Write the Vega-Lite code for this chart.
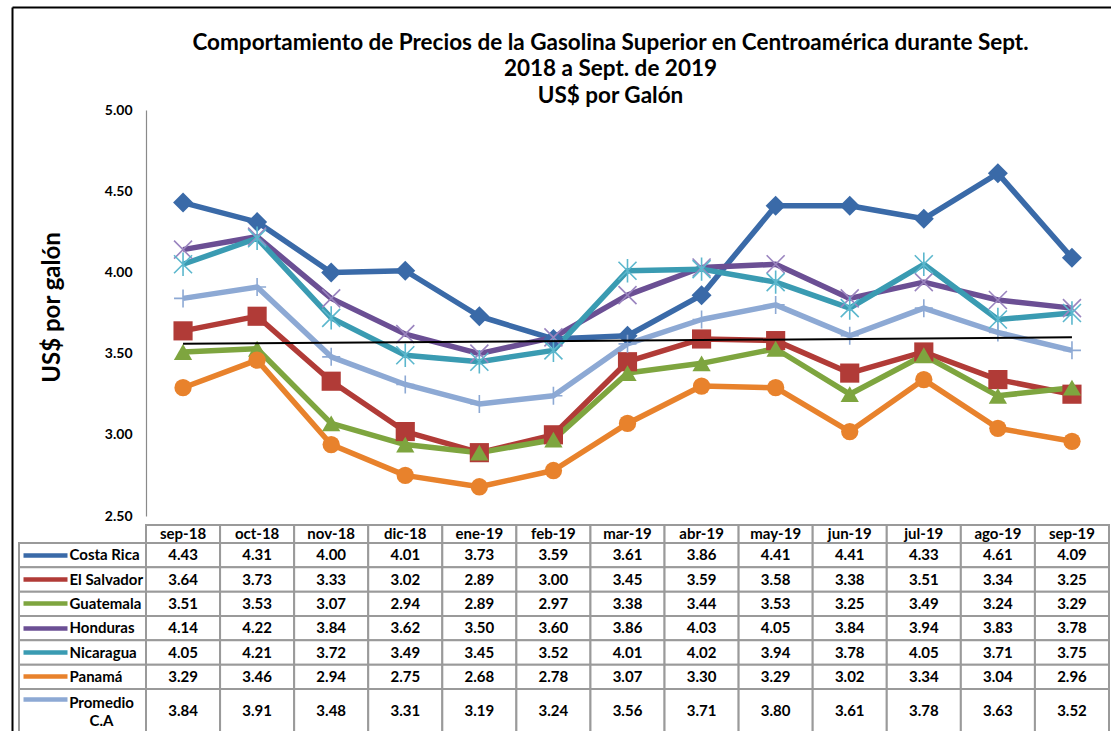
{
  "$schema": "https://vega.github.io/schema/vega-lite/v6.json",
  "autosize": {"type": "pad"},
  "padding": {"left": 11, "top": 6, "right": 0, "bottom": 0},
  "background": "white",
  "config": {"view": {"stroke": null}, "font": "Lato"},
  "datasets": {
    "meses": [
      {"mes": "sep-18"}, {"mes": "oct-18"}, {"mes": "nov-18"}, {"mes": "dic-18"}, {"mes": "ene-19"}, {"mes": "feb-19"}, {"mes": "mar-19"},
      {"mes": "abr-19"}, {"mes": "may-19"}, {"mes": "jun-19"}, {"mes": "jul-19"}, {"mes": "ago-19"}, {"mes": "sep-19"}
    ],
    "tendencia": [
      {"mes": "sep-18", "precio": 3.56},
      {"mes": "sep-19", "precio": 3.60}
    ],
    "precios": [
      {"pais": "Costa Rica", "mes": "sep-18", "precio": 4.43},
      {"pais": "Costa Rica", "mes": "oct-18", "precio": 4.31},
      {"pais": "Costa Rica", "mes": "nov-18", "precio": 4.00},
      {"pais": "Costa Rica", "mes": "dic-18", "precio": 4.01},
      {"pais": "Costa Rica", "mes": "ene-19", "precio": 3.73},
      {"pais": "Costa Rica", "mes": "feb-19", "precio": 3.59},
      {"pais": "Costa Rica", "mes": "mar-19", "precio": 3.61},
      {"pais": "Costa Rica", "mes": "abr-19", "precio": 3.86},
      {"pais": "Costa Rica", "mes": "may-19", "precio": 4.41},
      {"pais": "Costa Rica", "mes": "jun-19", "precio": 4.41},
      {"pais": "Costa Rica", "mes": "jul-19", "precio": 4.33},
      {"pais": "Costa Rica", "mes": "ago-19", "precio": 4.61},
      {"pais": "Costa Rica", "mes": "sep-19", "precio": 4.09},
      {"pais": "El Salvador", "mes": "sep-18", "precio": 3.64},
      {"pais": "El Salvador", "mes": "oct-18", "precio": 3.73},
      {"pais": "El Salvador", "mes": "nov-18", "precio": 3.33},
      {"pais": "El Salvador", "mes": "dic-18", "precio": 3.02},
      {"pais": "El Salvador", "mes": "ene-19", "precio": 2.89},
      {"pais": "El Salvador", "mes": "feb-19", "precio": 3.00},
      {"pais": "El Salvador", "mes": "mar-19", "precio": 3.45},
      {"pais": "El Salvador", "mes": "abr-19", "precio": 3.59},
      {"pais": "El Salvador", "mes": "may-19", "precio": 3.58},
      {"pais": "El Salvador", "mes": "jun-19", "precio": 3.38},
      {"pais": "El Salvador", "mes": "jul-19", "precio": 3.51},
      {"pais": "El Salvador", "mes": "ago-19", "precio": 3.34},
      {"pais": "El Salvador", "mes": "sep-19", "precio": 3.25},
      {"pais": "Guatemala", "mes": "sep-18", "precio": 3.51},
      {"pais": "Guatemala", "mes": "oct-18", "precio": 3.53},
      {"pais": "Guatemala", "mes": "nov-18", "precio": 3.07},
      {"pais": "Guatemala", "mes": "dic-18", "precio": 2.94},
      {"pais": "Guatemala", "mes": "ene-19", "precio": 2.89},
      {"pais": "Guatemala", "mes": "feb-19", "precio": 2.97},
      {"pais": "Guatemala", "mes": "mar-19", "precio": 3.38},
      {"pais": "Guatemala", "mes": "abr-19", "precio": 3.44},
      {"pais": "Guatemala", "mes": "may-19", "precio": 3.53},
      {"pais": "Guatemala", "mes": "jun-19", "precio": 3.25},
      {"pais": "Guatemala", "mes": "jul-19", "precio": 3.49},
      {"pais": "Guatemala", "mes": "ago-19", "precio": 3.24},
      {"pais": "Guatemala", "mes": "sep-19", "precio": 3.29},
      {"pais": "Honduras", "mes": "sep-18", "precio": 4.14},
      {"pais": "Honduras", "mes": "oct-18", "precio": 4.22},
      {"pais": "Honduras", "mes": "nov-18", "precio": 3.84},
      {"pais": "Honduras", "mes": "dic-18", "precio": 3.62},
      {"pais": "Honduras", "mes": "ene-19", "precio": 3.50},
      {"pais": "Honduras", "mes": "feb-19", "precio": 3.60},
      {"pais": "Honduras", "mes": "mar-19", "precio": 3.86},
      {"pais": "Honduras", "mes": "abr-19", "precio": 4.03},
      {"pais": "Honduras", "mes": "may-19", "precio": 4.05},
      {"pais": "Honduras", "mes": "jun-19", "precio": 3.84},
      {"pais": "Honduras", "mes": "jul-19", "precio": 3.94},
      {"pais": "Honduras", "mes": "ago-19", "precio": 3.83},
      {"pais": "Honduras", "mes": "sep-19", "precio": 3.78},
      {"pais": "Nicaragua", "mes": "sep-18", "precio": 4.05},
      {"pais": "Nicaragua", "mes": "oct-18", "precio": 4.21},
      {"pais": "Nicaragua", "mes": "nov-18", "precio": 3.72},
      {"pais": "Nicaragua", "mes": "dic-18", "precio": 3.49},
      {"pais": "Nicaragua", "mes": "ene-19", "precio": 3.45},
      {"pais": "Nicaragua", "mes": "feb-19", "precio": 3.52},
      {"pais": "Nicaragua", "mes": "mar-19", "precio": 4.01},
      {"pais": "Nicaragua", "mes": "abr-19", "precio": 4.02},
      {"pais": "Nicaragua", "mes": "may-19", "precio": 3.94},
      {"pais": "Nicaragua", "mes": "jun-19", "precio": 3.78},
      {"pais": "Nicaragua", "mes": "jul-19", "precio": 4.05},
      {"pais": "Nicaragua", "mes": "ago-19", "precio": 3.71},
      {"pais": "Nicaragua", "mes": "sep-19", "precio": 3.75},
      {"pais": "Panamá", "mes": "sep-18", "precio": 3.29},
      {"pais": "Panamá", "mes": "oct-18", "precio": 3.46},
      {"pais": "Panamá", "mes": "nov-18", "precio": 2.94},
      {"pais": "Panamá", "mes": "dic-18", "precio": 2.75},
      {"pais": "Panamá", "mes": "ene-19", "precio": 2.68},
      {"pais": "Panamá", "mes": "feb-19", "precio": 2.78},
      {"pais": "Panamá", "mes": "mar-19", "precio": 3.07},
      {"pais": "Panamá", "mes": "abr-19", "precio": 3.30},
      {"pais": "Panamá", "mes": "may-19", "precio": 3.29},
      {"pais": "Panamá", "mes": "jun-19", "precio": 3.02},
      {"pais": "Panamá", "mes": "jul-19", "precio": 3.34},
      {"pais": "Panamá", "mes": "ago-19", "precio": 3.04},
      {"pais": "Panamá", "mes": "sep-19", "precio": 2.96},
      {"pais": "Promedio C.A", "mes": "sep-18", "precio": 3.84},
      {"pais": "Promedio C.A", "mes": "oct-18", "precio": 3.91},
      {"pais": "Promedio C.A", "mes": "nov-18", "precio": 3.48},
      {"pais": "Promedio C.A", "mes": "dic-18", "precio": 3.31},
      {"pais": "Promedio C.A", "mes": "ene-19", "precio": 3.19},
      {"pais": "Promedio C.A", "mes": "feb-19", "precio": 3.24},
      {"pais": "Promedio C.A", "mes": "mar-19", "precio": 3.56},
      {"pais": "Promedio C.A", "mes": "abr-19", "precio": 3.71},
      {"pais": "Promedio C.A", "mes": "may-19", "precio": 3.80},
      {"pais": "Promedio C.A", "mes": "jun-19", "precio": 3.61},
      {"pais": "Promedio C.A", "mes": "jul-19", "precio": 3.78},
      {"pais": "Promedio C.A", "mes": "ago-19", "precio": 3.63},
      {"pais": "Promedio C.A", "mes": "sep-19", "precio": 3.52}
    ]
  },
  "columns": 2,
  "spacing": 0,
  "bounds": "flush",
  "concat": [
    {
      "width": 127, "height": 406,
      "data": {"values": [{}]},
      "mark": {"type": "text", "text": ""},
      "encoding": {
        "x": {"datum": 0, "type": "quantitative", "scale": {"domain": [0, 1]},
              "axis": {"orient": "top", "offset": 103, "values": [0], "labels": false, "grid": false,
                       "ticks": true, "tickSize": -724, "tickOffset": -7, "tickColor": "black", "tickWidth": 2,
                       "domain": false, "title": null}},
        "y": {"datum": 0, "type": "quantitative", "scale": {"domain": [0, 1]},
              "axis": {"orient": "left", "offset": 7, "values": [1], "labels": false, "grid": false,
                       "ticks": true, "tickSize": -1099, "tickOffset": -103, "tickColor": "black", "tickWidth": 2,
                       "domain": false, "title": null}}
      }
    },
    {
      "width": 963, "height": 406,
      "title": {
        "text": ["Comportamiento de Precios de la Gasolina Superior en Centroamérica durante Sept.", "2018 a Sept. de 2019", "US$ por Galón"],
        "font": "Lato", "fontSize": 22.5, "fontWeight": "bold", "color": "black",
        "lineHeight": 26.5, "anchor": "middle", "offset": -4, "dx": -17
      },
      "data": {"name": "precios"},
      "encoding": {
        "x": {"field": "mes", "type": "ordinal", "sort": ["sep-18","oct-18","nov-18","dic-18","ene-19","feb-19","mar-19","abr-19","may-19","jun-19","jul-19","ago-19","sep-19"],
              "scale": {"type": "point", "padding": 0.5, "domain": ["sep-18","oct-18","nov-18","dic-18","ene-19","feb-19","mar-19","abr-19","may-19","jun-19","jul-19","ago-19","sep-19"]},
              "axis": null},
        "y": {"field": "precio", "type": "quantitative",
              "scale": {"domain": [2.5, 5], "nice": false, "zero": false},
              "axis": {"values": [2.5, 3, 3.5, 4, 4.5, 5], "format": ".2f", "grid": false, "ticks": false,
                       "domainColor": "#8a8a8a", "domainWidth": 1.2,
                       "labelFont": "Lato", "labelFontWeight": "bold", "labelFontSize": 14, "labelColor": "black",
                       "labelPadding": 14, "labelFlush": false, "labelOverlap": false,
                       "title": "US$ por galón", "titleFont": "Lato", "titleFontSize": 24, "titleFontWeight": "bold",
                       "titleColor": "black", "titlePadding": 40, "titleY": 197}}
      },
      "layer": [
        {
          "mark": {"type": "line", "strokeWidth": 5.5, "strokeJoin": "round"},
          "encoding": {
            "color": {"field": "pais", "type": "nominal",
                      "scale": {"domain": ["Costa Rica","El Salvador","Guatemala","Honduras","Nicaragua","Panamá","Promedio C.A"],
                                "range": ["#3a6aa8","#b13b37","#7ea53f","#6b4f94","#3a9bb2","#e8822c","#8da9d4"]},
                      "legend": null}
          }
        },
        {
          "transform": [{"filter": {"field": "pais", "oneOf": ["Costa Rica","El Salvador","Guatemala","Panamá"]}}],
          "mark": {"type": "point", "filled": true, "opacity": 1},
          "encoding": {
            "color": {"field": "pais", "type": "nominal",
                      "scale": {"domain": ["Costa Rica","El Salvador","Guatemala","Honduras","Nicaragua","Panamá","Promedio C.A"],
                                "range": ["#3a6aa8","#b13b37","#7ea53f","#6b4f94","#3a9bb2","#e8822c","#8da9d4"]},
                      "legend": null},
            "shape": {"field": "pais", "type": "nominal",
                      "scale": {"domain": ["Costa Rica","El Salvador","Guatemala","Panamá"], "range": ["diamond","square","triangle-up","circle"]},
                      "legend": null},
            "size": {"field": "pais", "type": "nominal",
                     "scale": {"domain": ["Costa Rica","El Salvador","Guatemala","Panamá"], "range": [400, 300, 300, 289]},
                     "legend": null}
          }
        },
        {
          "transform": [{"filter": {"field": "pais", "oneOf": ["Honduras","Nicaragua","Promedio C.A"]}}],
          "mark": {"type": "point", "filled": false, "opacity": 1, "strokeWidth": 1.6},
          "encoding": {
            "stroke": {"field": "pais", "type": "nominal",
                       "scale": {"domain": ["Honduras","Nicaragua","Promedio C.A"], "range": ["#9a84bf","#5bb7cd","#8da9d4"]},
                       "legend": null},
            "shape": {"field": "pais", "type": "nominal",
                      "scale": {"domain": ["Honduras","Nicaragua","Promedio C.A"],
                                "range": ["M-1,-1L1,1M-1,1L1,-1", "M-1,-1L1,1M-1,1L1,-1M0,-1.3L0,1.3", "M-1,0L1,0M0,-1L0,1"]},
                      "legend": null},
            "size": {"field": "pais", "type": "nominal",
                     "scale": {"domain": ["Honduras","Nicaragua","Promedio C.A"], "range": [324, 324, 400]},
                     "legend": null}
          }
        },
        {
          "data": {"name": "tendencia"},
          "mark": {"type": "line", "color": "black", "strokeWidth": 2}
        }
      ],
      "resolve": {"scale": {"shape": "independent", "size": "independent"}}
    },
    {
      "width": 127, "height": 27,
      "data": {"values": [{}]},
      "mark": {"type": "text", "text": ""},
      "encoding": {}
    },
    {
      "width": 963, "height": 27,
      "data": {"name": "meses"},
      "encoding": {
        "x": {"field": "mes", "type": "ordinal", "sort": null,
              "scale": {"type": "band", "paddingInner": 0, "paddingOuter": 0, "domain": ["sep-18","oct-18","nov-18","dic-18","ene-19","feb-19","mar-19","abr-19","may-19","jun-19","jul-19","ago-19","sep-19"]},
              "axis": null},
        "y": {"datum": "encabezado", "type": "nominal",
              "scale": {"type": "band", "domain": ["encabezado"], "paddingInner": 0, "paddingOuter": 0.25, "align": 1},
              "axis": null}
      },
      "layer": [
        {"mark": {"type": "rect", "fill": "white", "stroke": "#9a9a9a", "strokeWidth": 2}},
        {"mark": {"type": "text", "font": "Lato", "fontWeight": "bold", "fontSize": 15, "color": "black"},
         "encoding": {"text": {"field": "mes", "type": "nominal"}}}
      ]
    },
    {
      "width": 127, "height": 146,
      "data": {"name": "precios"},
      "transform": [{"filter": "datum.mes == 'sep-18' && datum.pais != 'Promedio C.A'"}],
      "mark": {"type": "rect", "fill": "white", "stroke": "#9a9a9a", "strokeWidth": 2},
      "encoding": {
        "y": {"field": "pais", "type": "nominal",
              "scale": {"type": "band", "paddingInner": 0, "paddingOuter": 0, "domain": ["Costa Rica","El Salvador","Guatemala","Honduras","Nicaragua","Panamá"]},
              "axis": {"orient": "left", "offset": -48, "domain": false, "ticks": true, "tickSize": 44, "tickWidth": 4.5,
                       "tickColor": {"condition": [
                         {"test": "datum.value == 'Costa Rica'", "value": "#3a6aa8"},
                         {"test": "datum.value == 'El Salvador'", "value": "#b13b37"},
                         {"test": "datum.value == 'Guatemala'", "value": "#7ea53f"},
                         {"test": "datum.value == 'Honduras'", "value": "#6b4f94"},
                         {"test": "datum.value == 'Nicaragua'", "value": "#3a9bb2"}
                       ], "value": "#e8822c"},
                       "labelAlign": "left", "labelPadding": -46, "labelBaseline": "middle",
                       "labelFont": "Lato", "labelFontWeight": "bold", "labelFontSize": 15, "labelColor": "black",
                       "labelOverlap": false, "title": null, "zindex": 1}}
      }
    },
    {
      "width": 963, "height": 146,
      "data": {"name": "precios"},
      "transform": [{"filter": "datum.pais != 'Promedio C.A'"}],
      "encoding": {
        "x": {"field": "mes", "type": "ordinal", "sort": null,
              "scale": {"type": "band", "paddingInner": 0, "paddingOuter": 0, "domain": ["sep-18","oct-18","nov-18","dic-18","ene-19","feb-19","mar-19","abr-19","may-19","jun-19","jul-19","ago-19","sep-19"]},
              "axis": null},
        "y": {"field": "pais", "type": "nominal",
              "scale": {"type": "band", "paddingInner": 0, "paddingOuter": 0, "domain": ["Costa Rica","El Salvador","Guatemala","Honduras","Nicaragua","Panamá"]},
              "axis": null}
      },
      "layer": [
        {"mark": {"type": "rect", "fill": "white", "stroke": "#9a9a9a", "strokeWidth": 2}},
        {"mark": {"type": "text", "font": "Lato", "fontWeight": "bold", "fontSize": 15, "color": "black"},
         "encoding": {"text": {"field": "precio", "type": "quantitative", "format": ".2f"}}}
      ]
    },
    {
      "width": 127, "height": 44,
      "data": {"name": "precios"},
      "transform": [{"filter": "datum.mes == 'sep-18' && datum.pais == 'Promedio C.A'"}],
      "mark": {"type": "rect", "fill": "white", "stroke": "#9a9a9a", "strokeWidth": 2},
      "encoding": {
        "y": {"field": "pais", "type": "nominal",
              "scale": {"type": "band", "paddingInner": 0, "paddingOuter": 0, "domain": ["Promedio C.A"]},
              "axis": {"orient": "left", "offset": -48, "domain": false, "ticks": true, "tickSize": 44, "tickWidth": 4.5,
                       "tickColor": "#8da9d4", "tickOffset": -12, "labelOffset": 3,
                       "labelExpr": "['Promedio', 'C.A']", "labelLineHeight": 18,
                       "labelAlign": "center", "labelPadding": -78, "labelBaseline": "middle",
                       "labelFont": "Lato", "labelFontWeight": "bold", "labelFontSize": 15, "labelColor": "black",
                       "labelOverlap": false, "title": null, "zindex": 1}}
      }
    },
    {
      "width": 963, "height": 44,
      "data": {"name": "precios"},
      "transform": [{"filter": "datum.pais == 'Promedio C.A'"}],
      "encoding": {
        "x": {"field": "mes", "type": "ordinal", "sort": null,
              "scale": {"type": "band", "paddingInner": 0, "paddingOuter": 0, "domain": ["sep-18","oct-18","nov-18","dic-18","ene-19","feb-19","mar-19","abr-19","may-19","jun-19","jul-19","ago-19","sep-19"]},
              "axis": null}
      },
      "layer": [
        {"mark": {"type": "rect", "fill": "white", "stroke": "#9a9a9a", "strokeWidth": 2}},
        {"mark": {"type": "text", "font": "Lato", "fontWeight": "bold", "fontSize": 15, "color": "black"},
         "encoding": {"text": {"field": "precio", "type": "quantitative", "format": ".2f"}}}
      ]
    }
  ]
}
